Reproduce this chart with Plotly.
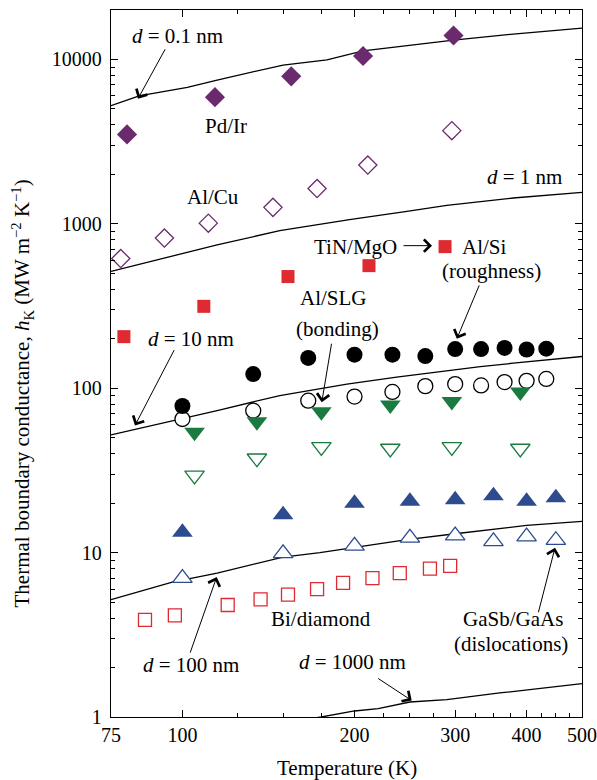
import numpy as np
import plotly.graph_objects as go

SERIF = "Liberation Serif, Times New Roman, serif"

# ---- measured thermal boundary conductance (MW m^-2 K^-1) vs temperature (K) ----
pdir_T = [80, 114, 155, 207, 298]
pdir_h = [3500, 5900, 7900, 10500, 14000]

alcu_T = [78, 93, 111, 144, 172, 211, 296]
alcu_h = [615, 820, 1010, 1260, 1640, 2280, 3690]

alsi_T = [79, 109, 153, 212, 288]
alsi_h = [206, 315, 478, 557, 727]

slg_T = [100, 133, 166, 200, 233, 266, 300, 333, 366, 400, 433]
slg_bonded_h = [78, 122, 153, 160, 160, 157, 173, 173, 176, 172, 174]
slg_plain_h = [65, 73, 84, 89, 95, 103, 106, 104, 109, 111, 114]

rough_T = [105, 135, 175, 231, 296, 390]
rough_smooth_h = [54, 62.5, 72, 79, 83, 95]
rough_rough_h = [29.5, 37.5, 44, 43, 44, 43]

gasb_T = [100, 150, 200, 250, 300, 350, 400, 450]
gasb_filled_h = [13.3, 17, 20, 20.5, 21, 22.2, 20.5, 21.6]
gasb_open_h = [7.0, 9.9, 11, 12.3, 12.7, 11.7, 12.5, 11.9]

bidia_T = [86, 97, 120, 137, 153, 172, 191, 215, 240, 271, 294]
bidia_h = [3.9, 4.15, 4.8, 5.2, 5.55, 6.0, 6.55, 7.0, 7.5, 8.0, 8.3]

# ---- model curves for different interface spacings d ----
d01_T = [75, 84, 102, 115, 150, 179, 207, 298, 379, 500]
d01_h = [5230, 6010, 6760, 7500, 9250, 9950, 11290, 13120, 14270, 15520]

d1_T = [75, 100, 115, 148, 196, 247, 290, 379, 500]
d1_h = [514, 656, 745, 909, 1060, 1190, 1295, 1437, 1554]

d10_T = [75, 100, 115, 148, 170, 194, 237, 290, 332, 379, 500]
d10_h = [52, 65.2, 73.2, 90.3, 97.8, 106, 116.7, 128, 135.5, 142, 156]

d100_T = [75, 96, 115, 150, 174, 196, 247, 300, 400, 500]
d100_h = [5.17, 6.62, 7.51, 9.39, 9.99, 10.65, 11.98, 13.03, 14.63, 15.5]

d1000_T = [150, 175, 200, 220, 250, 290, 359, 470, 500]
d1000_h = [0.93, 1.0, 1.088, 1.125, 1.234, 1.276, 1.40, 1.559, 1.596]

# ---- axes ----
x_ticks = [75, 100, 200, 300, 400, 500]
x_minor = [125, 150, 175, 225, 250, 275, 325, 350, 375, 425, 450, 475]
y_ticks = [1, 10, 100, 1000, 10000]
y_minor = [m * 10 ** k for k in range(0, 5) for m in range(2, 10) if m * 10 ** k <= 20000]

PURPLE = "#6b2a6e"
RED = "#de2a30"
GREEN = "#1b7a40"
BLUE = "#2d4b8f"

fig = go.Figure()

curves = [(d01_T, d01_h), (d1_T, d1_h), (d10_T, d10_h), (d100_T, d100_h), (d1000_T, d1000_h)]
for T, h in curves:
    fig.add_trace(go.Scatter(x=T, y=h, mode="lines",
                             line=dict(color="black", width=1.3), hoverinfo="skip"))


def pts(T, h, symbol, size, color, filled, lw=1.3):
    fig.add_trace(go.Scatter(
        x=T, y=h, mode="markers",
        marker=dict(symbol=symbol, size=size,
                    color=color if filled else "white",
                    line=dict(color=color, width=0 if filled else lw))))


pts(pdir_T, pdir_h, "diamond", 15.5, PURPLE, True)
pts(alcu_T, alcu_h, "diamond", 14, PURPLE, False)
pts(alsi_T, alsi_h, "square", 13, RED, True)
pts(slg_T, slg_plain_h, "circle", 15, "black", False)
pts(slg_T, slg_bonded_h, "circle", 16, "black", True)
pts(rough_T, rough_smooth_h, "triangle-down", 18, GREEN, True)
pts(rough_T, rough_rough_h, "triangle-down", 17, GREEN, False)
pts(gasb_T, gasb_filled_h, "triangle-up", 18, BLUE, True)
pts(gasb_T, gasb_open_h, "triangle-up", 17, BLUE, False)
pts(bidia_T, bidia_h, "square", 13, RED, False)

lg = np.log10
FS = 21

# text labels: (text, T, h, xanchor)
labels = [
    ("<i>d</i> = 0.1 nm", 98, 13930, "center"),
    ("Pd/Ir", 119, 3950, "center"),
    ("Al/Cu", 113, 1450, "center"),
    ("<i>d</i> = 1 nm", 396, 1920, "center"),
    ("TiN/MgO", 201, 727, "center"),
    ("Al/Si", 306, 727, "left"),
    ("(roughness)", 347, 519, "center"),
    ("Al/SLG", 184, 356, "center"),
    ("(bonding)", 187, 230, "center"),
    ("<i>d</i> = 10 nm", 103.4, 200, "center"),
    ("Bi/diamond", 175, 3.97, "center"),
    ("GaSb/GaAs", 378, 3.97, "center"),
    ("(dislocations)", 376, 2.79, "center"),
    ("<i>d</i> = 100 nm", 103.4, 2.06, "center"),
    ("<i>d</i> = 1000 nm", 198, 2.16, "center"),
]
for txt, T, h, xa in labels:
    fig.add_annotation(x=lg(T), y=lg(h), text=txt, showarrow=False,
                       xanchor=xa, yanchor="middle",
                       font=dict(family=SERIF, size=FS, color="black"))

# pointer arrows: tip (T, h) and tail offset in px
pointers = [
    (83.6, 5768, 28, -51),
    (82.6, 59.3, 40, -77),
    (175.3, 82.2, 10, -60),
    (302, 199.7, 23, -55),
    (114.8, 7.1, -27, 77),
    (251.8, 1.26, -35, -23),
    (448.5, 10.7, -17, 66),
    (273.3, 737, -30, 0),
]
for T, h, ax, ay in pointers:
    fig.add_annotation(x=lg(T), y=lg(h), ax=ax, ay=ay, text="", showarrow=True,
                       arrowhead=4, arrowsize=2.4, arrowwidth=1, arrowcolor="black")

# axis titles
fig.add_annotation(xref="paper", yref="paper", x=0.5, y=-0.072,
                   text="Temperature (K)", showarrow=False,
                   xanchor="center", yanchor="middle",
                   font=dict(family=SERIF, size=FS, color="black"))
fig.add_annotation(xref="paper", yref="paper", x=-0.189, y=0.4576,
                   text="Thermal boundary conductance, <i>h</i><sub>K</sub> (MW m<sup>\u22122</sup> K<sup>\u22121</sup>)",
                   showarrow=False, textangle=-90, xanchor="center", yanchor="middle",
                   font=dict(family=SERIF, size=FS, color="black"))

axis_common = dict(
    type="log", showgrid=False, zeroline=False, showline=True, automargin=False,
    linecolor="black", linewidth=1.3, mirror="ticks",
    ticks="inside", ticklen=7, tickwidth=1.1, tickcolor="black",
    tickfont=dict(family=SERIF, size=20, color="black"),
)

fig.update_xaxes(**axis_common, range=[lg(75), lg(500)],
                 tickvals=x_ticks, ticktext=[str(v) for v in x_ticks],
                 minor=dict(tickvals=x_minor, ticks="inside", ticklen=4,
                            tickwidth=1, tickcolor="black", showgrid=False))
fig.update_yaxes(**axis_common, range=[0, lg(20000)], ticklabelstandoff=4,
                 tickvals=y_ticks, ticktext=[str(v) for v in y_ticks],
                 minor=dict(tickvals=y_minor, ticks="inside", ticklen=4,
                            tickwidth=1, tickcolor="black", showgrid=False))

fig.update_layout(width=597, height=780, showlegend=False,
                  margin=dict(l=111, r=15, t=10, b=63),
                  plot_bgcolor="white", paper_bgcolor="white")

fig.write_html("out.html")
